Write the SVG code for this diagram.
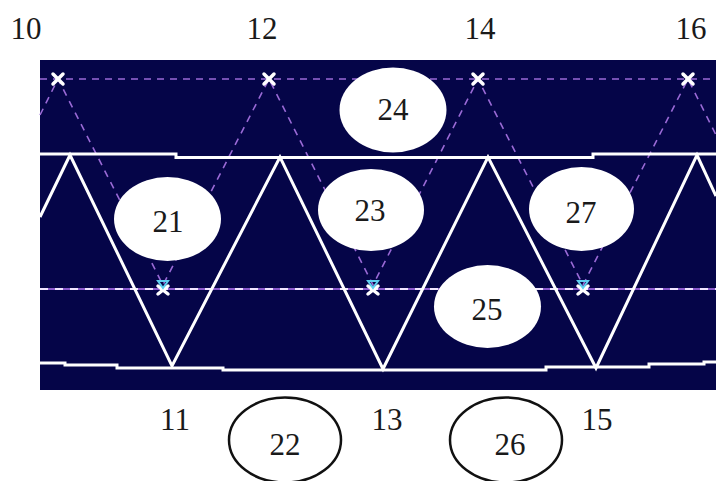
<svg xmlns="http://www.w3.org/2000/svg" width="716" height="481" viewBox="0 0 716 481">
<defs>
<style>
.lbl{font-family:"Liberation Serif","DejaVu Serif","Times New Roman",serif;font-size:31px;fill:#1a1a1a;text-anchor:middle}
.wl{fill:none;stroke:#ffffff;stroke-width:3;stroke-linejoin:miter}
.dash{fill:none;stroke:#9a6ad6;stroke-width:1.6;stroke-dasharray:7 6}
.node{fill:#ffffff;stroke:none}
.onode{fill:none;stroke:#111111;stroke-width:2.5}
.xm{stroke:#ffffff;stroke-width:3.5;stroke-linecap:round}
</style>
<g id="xmark"><line class="xm" x1="-5" y1="-5" x2="5" y2="5"/><line class="xm" x1="-5" y1="5" x2="5" y2="-5"/></g>
<g id="xmid">
<line class="xm" x1="-5" y1="-2" x2="5" y2="6" stroke-width="2.5"/><line class="xm" x1="-5" y1="6" x2="5" y2="-2" stroke-width="2.5"/>
<path d="M-5,-7 L5,-7 L0,0 Z" fill="none" stroke="#5fd0f0" stroke-width="2"/>
</g>
</defs>
<rect x="0" y="0" width="716" height="481" fill="#ffffff"/>
<rect x="40" y="60" width="676" height="330" fill="#050548"/>

<g id="connectors">
<line class="dash" x1="40" y1="79" x2="716" y2="79" stroke="#b080e0"/>
<line x1="40" y1="289" x2="716" y2="289" stroke="#8a5acc" stroke-width="1.8"/>
<line x1="40" y1="289" x2="716" y2="289" stroke="#f0e6ff" stroke-width="1.8" stroke-dasharray="8 7"/>
<polyline class="dash" points="40,115 58,79 163,285 269,79 373,285 478,79 583,285 688,79 716,135"/>
<polyline class="wl" points="40,154 176,154 176,157.5 593,157.5 593,154 716,154"/>
<polyline class="wl" points="40,363 65,363 65,365 117,365 117,368 223,368 223,370 546,370 546,367 649,367 649,364 704,364 704,362 716,362"/>
<polyline class="wl" stroke-width="2.8" points="40,217 70,155 172,366 280,157 383,369 488,157 596,368 697,155 716,196"/>
</g>

<g id="markers">
<use href="#xmark" x="58" y="79"/>
<use href="#xmark" x="269" y="79"/>
<use href="#xmark" x="478" y="79"/>
<use href="#xmark" x="688" y="79"/>
<use href="#xmid" x="163" y="288"/>
<use href="#xmid" x="373" y="288"/>
<use href="#xmid" x="583" y="288"/>
</g>

<g id="n24"><ellipse class="node" cx="393" cy="110" rx="53.5" ry="42.5"/><text class="lbl" x="393" y="120">24</text></g>
<g id="n21"><ellipse class="node" cx="167.5" cy="219" rx="53.5" ry="42"/><text class="lbl" x="168" y="232">21</text></g>
<g id="n23"><ellipse class="node" cx="371" cy="210" rx="53" ry="41"/><text class="lbl" x="370" y="221">23</text></g>
<g id="n27"><ellipse class="node" cx="581.5" cy="209" rx="52.5" ry="42"/><text class="lbl" x="581" y="223">27</text></g>
<g id="n25"><ellipse class="node" cx="487.5" cy="306.5" rx="53.5" ry="41.5"/><text class="lbl" x="487" y="320">25</text></g>
<g id="n22"><ellipse class="onode" cx="285" cy="440" rx="56" ry="42.5"/><text class="lbl" x="285" y="455">22</text></g>
<g id="n26"><ellipse class="onode" cx="506" cy="440" rx="56" ry="42.5"/><text class="lbl" x="510" y="455">26</text></g>

<g id="labels">
<text class="lbl" x="26" y="39">10</text>
<text class="lbl" x="262" y="39">12</text>
<text class="lbl" x="480" y="39">14</text>
<text class="lbl" x="691" y="39">16</text>
<text class="lbl" x="175" y="430">11</text>
<text class="lbl" x="387" y="430">13</text>
<text class="lbl" x="597" y="430">15</text>
</g>
</svg>
